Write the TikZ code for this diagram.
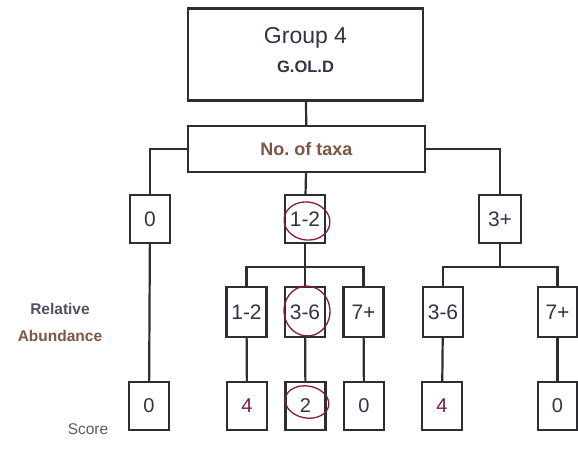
\documentclass[tikz,border=0pt]{standalone}
\usepackage{fontspec}
\setmainfont{Liberation Sans}
\usepackage{tikz}
\usetikzlibrary{calc}
\definecolor{inkline}{RGB}{45,45,50}
\definecolor{inktext}{RGB}{50,50,75}
\definecolor{inkbrown}{RGB}{125,85,70}
\definecolor{inkred}{RGB}{130,30,60}
\tikzset{
  box/.style={draw=inkline,line width=2.2pt,inner sep=0pt,minimum width=40pt,text=inktext},
  taxabox/.style={box,minimum height=48pt,font=\fontsize{21}{21}\selectfont},
  abunbox/.style={box,minimum height=50pt,font=\fontsize{21}{21}\selectfont},
  scorebox/.style={box,minimum height=48pt,font=\fontsize{20}{20}\selectfont},
  link/.style={draw=inkline,line width=2.2pt},
  ring/.style={draw=inkred,line width=1.3pt},
  side/.style={text=inktext,font=\fontsize{15.5}{15.5}\selectfont\bfseries}
}
\begin{document}
\begin{tikzpicture}[x=1pt,y=-1pt]
\useasboundingbox[fill=white] (0,0) rectangle (578,448);
% top boxes
\node[box,minimum width=235pt,minimum height=92pt] (gold) at (305.5,54.5) {};
\node[text=inktext,font=\fontsize{23}{23}\selectfont] (goldA) at (305.5,38) {Group 4};
\node[text=inktext,font=\fontsize{16.5}{16.5}\selectfont\bfseries] (goldB) at (305.5,67) {G.OL.D};
\node[box,minimum width=237pt,minimum height=46pt,text=inkbrown,font=\fontsize{18}{18}\selectfont\bfseries] (taxa) at (306.5,149) {No.\ of taxa};
% number of taxa
\node[taxabox] (n0) at (150,219) {0};
\node[taxabox] (n12) at (305,219) {1-2};
\node[taxabox,minimum width=42pt] (n3p) at (500,219) {3+};
% relative abundance
\node[abunbox] (a12) at (246.5,312) {1-2};
\node[abunbox] (a36) at (305,312) {3-6};
\node[abunbox] (a7p) at (363.5,312) {7+};
\node[abunbox] (b36) at (443,312) {3-6};
\node[abunbox,minimum width=39pt] (b7p) at (557.5,312) {7+};
% score
\node[scorebox] (s0) at (149,406) {0};
\node[scorebox,text=inkred!80!inktext] (s4a) at (247,406) {4};
\node[scorebox] (s2) at (305.5,406) {2};
\node[scorebox] (s0b) at (364,406) {0};
\node[scorebox,text=inkred!80!inktext] (s4b) at (442,406) {4};
\node[scorebox,minimum width=39pt] (s0c) at (557.5,406) {0};
% side labels
\node[side,text=inktext!85] (rel) at (60,309) {Relative};
\node[side,text=inkbrown] (abun) at (60,336) {Abundance};
\node[side,text=inktext!80,font=\fontsize{15.5}{15.5}\selectfont] (score) at (88,429) {Score};
% connectors
\coordinate (j1) at (305,267);
\coordinate (j2) at (500,267);
\draw[link] (gold) -- (taxa);
\draw[link] (taxa.west) -| (n0.north);
\draw[link] (taxa.east) -| (n3p.north);
\draw[link] (taxa) -- (n12);
\draw[link] (n12.south) -- (j1);
\draw[link] (a12.north) |- (j1) -| (a7p.north);
\draw[link] (j1) -- (a36.north);
\draw[link] (n3p.south) -- (j2);
\draw[link] (b36.north) |- (j2) -| (b7p.north);
\draw[link] (n0) -- (s0);
\draw[link] (a12) -- (s4a);
\draw[link] (a36) -- (s2);
\draw[link] (a7p) -- (s0b);
\draw[link] (b36) -- (s4b);
\draw[link] (b7p) -- (s0c);
% hand drawn rings
\draw[ring,rotate around={-8:(307,221)}] (307,221) ellipse (23pt and 19pt);
\draw[ring,rotate around={5:(307,311)}] (307,311) ellipse (23pt and 25pt);
\draw[ring,rotate around={-10:(307,402)}] (307,402) ellipse (22pt and 16pt);
\end{tikzpicture}
\end{document}
